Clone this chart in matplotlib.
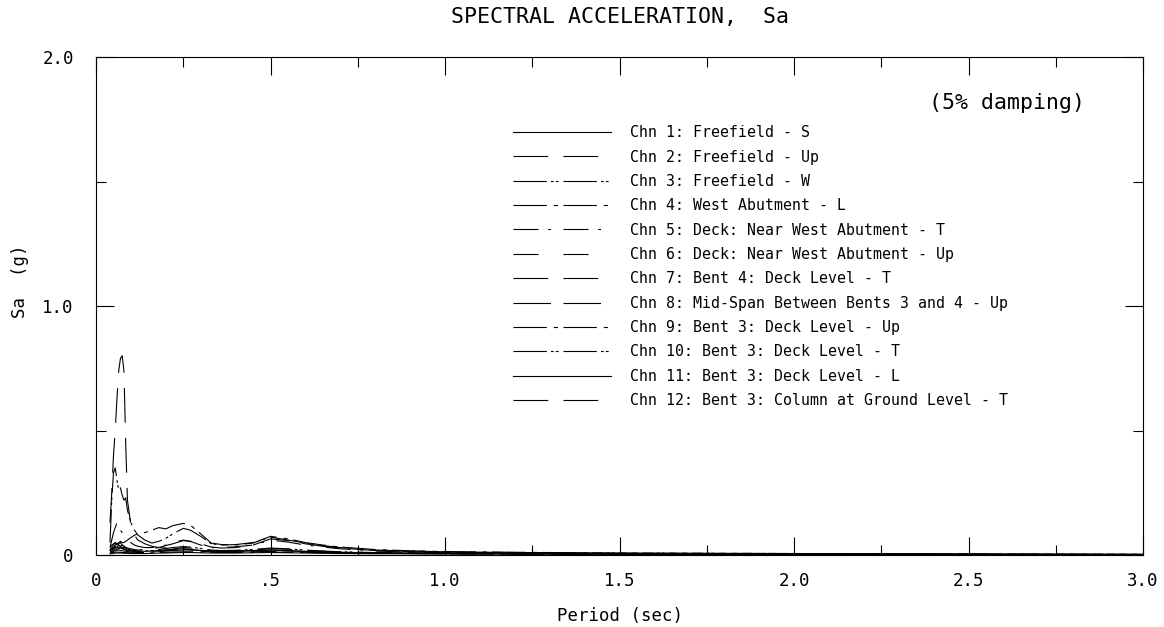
import matplotlib
matplotlib.use("Agg")
import matplotlib.pyplot as plt
from matplotlib.ticker import MultipleLocator, FixedLocator, FixedFormatter

plt.rcParams['font.family'] = ['DejaVu Sans Mono']
plt.rcParams['lines.scale_dashes'] = False

# ==========================================
# data
# ==========================================
period = [0.04, 0.045, 0.05, 0.055, 0.06, 0.065, 0.07, 0.075, 0.08, 0.085,
          0.09, 0.10, 0.11, 0.12, 0.14, 0.16, 0.18, 0.20, 0.22, 0.25,
          0.27, 0.30, 0.33, 0.36, 0.40, 0.45, 0.50, 0.55, 0.60, 0.65,
          0.70, 0.80, 0.90, 1.0, 1.2, 1.5, 2.0, 2.5, 3.0]

chn1 = [0.02, 0.025, 0.03, 0.035, 0.03, 0.04, 0.035, 0.03, 0.03, 0.028,
        0.025, 0.02, 0.018, 0.016, 0.015, 0.016, 0.018, 0.02, 0.022, 0.025,
        0.022, 0.018, 0.016, 0.016, 0.017, 0.018, 0.02, 0.018, 0.015, 0.013,
        0.011, 0.009, 0.008, 0.007, 0.006, 0.005, 0.004, 0.003, 0.002]
chn2 = [0.13, 0.25, 0.40, 0.50, 0.63, 0.74, 0.79, 0.80, 0.74, 0.45,
        0.22, 0.12, 0.08, 0.06, 0.045, 0.035, 0.03, 0.028, 0.027, 0.025,
        0.022, 0.018, 0.016, 0.015, 0.015, 0.016, 0.017, 0.016, 0.014, 0.012,
        0.010, 0.008, 0.007, 0.006, 0.005, 0.004, 0.003, 0.002, 0.002]
chn3 = [0.05, 0.22, 0.33, 0.35, 0.30, 0.26, 0.27, 0.24, 0.22, 0.23,
        0.18, 0.13, 0.10, 0.08, 0.06, 0.048, 0.055, 0.067, 0.085, 0.107,
        0.10, 0.075, 0.045, 0.04, 0.042, 0.05, 0.072, 0.06, 0.048, 0.038,
        0.03, 0.02, 0.016, 0.013, 0.01, 0.008, 0.006, 0.004, 0.003]
chn4 = [0.03, 0.04, 0.045, 0.05, 0.045, 0.05, 0.055, 0.05, 0.05, 0.055,
        0.06, 0.07, 0.08, 0.085, 0.09, 0.10, 0.11, 0.105, 0.118, 0.127,
        0.12, 0.085, 0.048, 0.042, 0.04, 0.048, 0.075, 0.065, 0.05, 0.04,
        0.032, 0.022, 0.017, 0.014, 0.011, 0.008, 0.006, 0.004, 0.003]
chn5 = [0.03, 0.06, 0.09, 0.11, 0.13, 0.12, 0.10, 0.09, 0.08, 0.07,
        0.06, 0.05, 0.04, 0.035, 0.03, 0.03, 0.033, 0.04, 0.05, 0.06,
        0.055, 0.04, 0.03, 0.03, 0.033, 0.04, 0.06, 0.052, 0.04, 0.032,
        0.025, 0.016, 0.012, 0.01, 0.008, 0.006, 0.004, 0.003, 0.002]
chn6 = [0.02, 0.03, 0.04, 0.05, 0.04, 0.045, 0.05, 0.04, 0.035, 0.03,
        0.03, 0.025, 0.02, 0.017, 0.015, 0.015, 0.016, 0.018, 0.02, 0.02,
        0.018, 0.015, 0.013, 0.012, 0.012, 0.013, 0.014, 0.013, 0.011, 0.01,
        0.009, 0.007, 0.006, 0.005, 0.004, 0.003, 0.002, 0.002, 0.001]
chn7 = [0.01, 0.012, 0.015, 0.018, 0.02, 0.02, 0.018, 0.017, 0.016, 0.015,
        0.014, 0.012, 0.011, 0.01, 0.01, 0.012, 0.014, 0.016, 0.018, 0.02,
        0.02, 0.018, 0.015, 0.014, 0.015, 0.017, 0.02, 0.018, 0.015, 0.012,
        0.01, 0.008, 0.007, 0.006, 0.005, 0.004, 0.003, 0.002, 0.002]
chn8 = [0.02, 0.025, 0.03, 0.04, 0.045, 0.04, 0.035, 0.04, 0.035, 0.03,
        0.028, 0.025, 0.022, 0.02, 0.022, 0.026, 0.03, 0.038, 0.045, 0.058,
        0.055, 0.045, 0.032, 0.028, 0.03, 0.04, 0.065, 0.058, 0.045, 0.035,
        0.028, 0.018, 0.014, 0.011, 0.009, 0.007, 0.005, 0.003, 0.002]
chn9 = [0.008, 0.009, 0.01, 0.012, 0.012, 0.011, 0.011, 0.01, 0.01, 0.01,
        0.009, 0.009, 0.008, 0.008, 0.008, 0.009, 0.01, 0.011, 0.012, 0.013,
        0.013, 0.012, 0.011, 0.01, 0.01, 0.011, 0.012, 0.011, 0.01, 0.009,
        0.008, 0.007, 0.006, 0.005, 0.004, 0.003, 0.002, 0.002, 0.001]
chn10 = [0.015, 0.02, 0.025, 0.03, 0.028, 0.03, 0.032, 0.028, 0.025, 0.022,
         0.02, 0.018, 0.016, 0.015, 0.016, 0.018, 0.022, 0.026, 0.03, 0.034,
         0.032, 0.026, 0.02, 0.018, 0.019, 0.022, 0.028, 0.025, 0.02, 0.016,
         0.013, 0.01, 0.008, 0.007, 0.006, 0.005, 0.004, 0.003, 0.002]
chn11 = [0.005, 0.006, 0.007, 0.008, 0.008, 0.008, 0.008, 0.008, 0.007, 0.007,
         0.007, 0.006, 0.006, 0.006, 0.006, 0.007, 0.008, 0.008, 0.009, 0.01,
         0.01, 0.009, 0.008, 0.008, 0.008, 0.009, 0.01, 0.009, 0.008, 0.007,
         0.006, 0.005, 0.005, 0.004, 0.004, 0.003, 0.002, 0.002, 0.001]
chn12 = [0.012, 0.015, 0.02, 0.025, 0.022, 0.025, 0.028, 0.025, 0.022, 0.02,
         0.018, 0.016, 0.014, 0.012, 0.012, 0.014, 0.016, 0.02, 0.024, 0.03,
         0.028, 0.022, 0.018, 0.016, 0.017, 0.02, 0.026, 0.023, 0.018, 0.015,
         0.012, 0.009, 0.008, 0.007, 0.006, 0.005, 0.004, 0.003, 0.002]

labels = [
    "Chn 1: Freefield - S",
    "Chn 2: Freefield - Up",
    "Chn 3: Freefield - W",
    "Chn 4: West Abutment - L",
    "Chn 5: Deck: Near West Abutment - T",
    "Chn 6: Deck: Near West Abutment - Up",
    "Chn 7: Bent 4: Deck Level - T",
    "Chn 8: Mid-Span Between Bents 3 and 4 - Up",
    "Chn 9: Bent 3: Deck Level - Up",
    "Chn 10: Bent 3: Deck Level - T",
    "Chn 11: Bent 3: Deck Level - L",
    "Chn 12: Bent 3: Column at Ground Level - T",
]
series = [chn1, chn2, chn3, chn4, chn5, chn6, chn7, chn8, chn9, chn10, chn11, chn12]

# dash patterns (points), one per channel
styles = [
    '-',
    (0, (25, 11)),
    (0, (24, 3, 2, 1.5, 2, 3.5)),
    (0, (24, 5, 3, 4)),
    (0, (18, 7, 2, 9)),
    (0, (18, 18)),
    (0, (25, 11)),
    (0, (27, 9)),
    (0, (24, 5, 3, 4)),
    (0, (24, 3, 2, 1.5, 2, 3.5)),
    '-',
    (0, (25, 11)),
]

# ==========================================
# figure
# ==========================================
fig = plt.figure(figsize=(11.64, 6.27), dpi=100)
ax = fig.add_axes([0.0825, 0.1148, 0.8995, 0.7943])

for y, lab, ls in zip(series, labels, styles):
    ax.plot(period, y, color='black', linewidth=0.8, linestyle=ls, label=lab)

ax.set_xlim(0, 3.0)
ax.set_ylim(0, 2.0)

ax.xaxis.set_major_locator(FixedLocator([0, 0.5, 1.0, 1.5, 2.0, 2.5, 3.0]))
ax.xaxis.set_major_formatter(FixedFormatter(["0", ".5", "1.0", "1.5", "2.0", "2.5", "3.0"]))
ax.xaxis.set_minor_locator(MultipleLocator(0.25))
ax.yaxis.set_major_locator(FixedLocator([0, 1.0, 2.0]))
ax.yaxis.set_major_formatter(FixedFormatter(["0", "1.0", "2.0"]))
ax.yaxis.set_minor_locator(MultipleLocator(0.5))

ax.tick_params(which='both', direction='in', top=True, right=True, width=0.8, labelsize=12.5)
ax.tick_params(which='major', length=13)
ax.tick_params(which='minor', length=7)
ax.tick_params(axis='x', which='major', pad=12)
ax.tick_params(axis='y', which='major', pad=16)
for sp in ax.spines.values():
    sp.set_linewidth(0.8)

ax.set_xlabel("Period (sec)", fontsize=12.5)
ax.set_ylabel("Sa  (g)", fontsize=12.5)
ax.yaxis.set_label_coords(-0.064, 0.55)
ax.xaxis.set_label_coords(0.5, -0.105)

fig.text(0.533, 0.973, "SPECTRAL ACCELERATION,  Sa", ha='center', va='center', fontsize=15.5)
ax.text(0.870, 0.908, "(5% damping)", transform=ax.transAxes, ha='center', va='center', fontsize=15.5)

ax.legend(loc='upper left', bbox_to_anchor=(0.398, 0.863), frameon=False,
          fontsize=10.7, handlelength=6.6, handletextpad=1.3, labelspacing=0.63,
          borderpad=0, borderaxespad=0)

fig.savefig("out.png", dpi=100)
